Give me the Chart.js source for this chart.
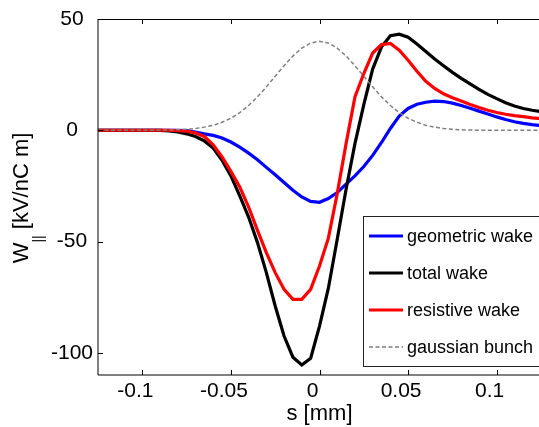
<!DOCTYPE html>
<html>
<head>
<meta charset="utf-8">
<script src="https://cdn.jsdelivr.net/npm/chart.js@4.4.0/dist/chart.umd.min.js"></script>
<style>
  html, body { margin: 0; padding: 0; background: #fff; overflow: hidden; }
  canvas { display: block; }
</style>
</head>
<body>
<canvas id="wakeChart" width="542" height="427"></canvas>
<script>
// longitudinal position s [mm]
const sPos = [
  -0.125, -0.12, -0.115, -0.11, -0.105, -0.1, -0.095, -0.09, -0.085, -0.08,
  -0.075, -0.07, -0.065, -0.06, -0.055, -0.05, -0.045, -0.04, -0.035, -0.03,
  -0.025, -0.02, -0.015, -0.01, -0.005, 0, 0.005, 0.01, 0.015, 0.02,
  0.025, 0.03, 0.035, 0.04, 0.045, 0.05, 0.055, 0.06, 0.065, 0.07,
  0.075, 0.08, 0.085, 0.09, 0.095, 0.1, 0.105, 0.11, 0.115, 0.12, 0.125
];

// wake potentials [kV/nC m]
const geometricWake = [
  0, 0, 0, 0, 0, 0, 0, 0, 0, 0,
  -0.2, -0.8, -1.6, -2.3, -3.5, -5.3, -7.6, -10.3, -13.3, -16.7,
  -20, -23.5, -27, -30, -32, -32.4, -30.7, -28, -24.2, -20.5,
  -16.3, -11.3, -5.5, 0.8, 6.4, 9.8, 11.7, 12.6, 13.1, 12.9,
  12.2, 11.1, 9.9, 8.6, 7.3, 6, 4.8, 3.8, 3.1, 2.5, 2.1
];
const totalWake = [
  0, 0, 0, 0, 0, 0, 0, -0.1, -0.3, -0.8,
  -1.6, -2.8, -4.8, -8, -13.5, -20.5, -29.5, -39, -50.5, -64,
  -79, -92.5, -102, -105.5, -102.5, -88, -71, -49, -26.5, -6,
  11.5, 27.5, 37.5, 42.5, 43.2, 41.8, 38.8, 35.4, 32, 29,
  26, 23.3, 20.8, 18.4, 16.1, 14.2, 12.4, 10.9, 9.8, 9, 8.4
];
const resistiveWake = [
  0, 0, 0, 0, 0, 0, 0, 0, 0, -0.2,
  -0.4, -1.2, -2.8, -6.5, -12, -18.5, -25.5, -34.5, -45, -55,
  -64, -71.5, -76, -76, -71.5, -61, -48.5, -28.5, -6, 15,
  25.5, 34.7, 38.5, 39, 36, 31.5, 26.5, 22, 18.8, 16.4,
  14.6, 13.1, 11.6, 10.2, 9, 8, 7.2, 6.6, 6.1, 5.6, 5.2
];
const gaussianBunch = [
  0, 0, 0, 0, 0, 0, 0, 0, 0.1, 0.2,
  0.4, 0.8, 1.4, 2.2, 3.6, 5.4, 7.9, 11.1, 15, 19.5,
  24.3, 29, 33.4, 36.9, 39.2, 40, 39.2, 36.9, 33.4, 29,
  24.3, 19.5, 15, 11.1, 7.9, 5.4, 3.6, 2.2, 1.4, 0.8,
  0.4, 0.2, 0.1, 0, 0, 0, 0, 0, 0, 0, 0
];

const xTicks = [-0.1, -0.05, 0, 0.05, 0.1];
const xTickLabels = ['-0.1', '-0.05', '0', '0.05', '0.1'];
const yTicks = [-100, -50, 0, 50];
const yTickLabels = ['-100', '-50', '0', '50'];
const seriesNames = ['geometric wake', 'total wake', 'resistive wake', 'gaussian bunch'];

const FONT = "'Liberation Sans', Arial, sans-serif";

function toPoints(values) {
    return sPos.map((s, i) => ({ x: s, y: values[i] }));
}

// box, inward ticks, axis titles and legend drawn on top of the plot
const framePlugin = {
    id: 'frame',
    afterDraw(chart) {
        const ctx = chart.ctx;
        const area = chart.chartArea;
        const xs = chart.scales.x;
        const ys = chart.scales.y;

        ctx.save();
        ctx.strokeStyle = '#000';
        ctx.lineWidth = 1;
        ctx.beginPath();
        ctx.moveTo(area.left, area.top + 0.5);
        ctx.lineTo(chart.width, area.top + 0.5);
        ctx.moveTo(area.left, area.bottom);
        ctx.lineTo(chart.width, area.bottom);
        ctx.moveTo(area.left, area.top);
        ctx.lineTo(area.left, area.bottom);
        xTicks.forEach(v => {
            const px = Math.round(xs.getPixelForValue(v)) + 0.5;
            ctx.moveTo(px, area.bottom);
            ctx.lineTo(px, area.bottom - 5);
            ctx.moveTo(px, area.top);
            ctx.lineTo(px, area.top + 5);
        });
        yTicks.forEach(v => {
            const py = Math.round(ys.getPixelForValue(v)) + 0.5;
            ctx.moveTo(area.left, py);
            ctx.lineTo(area.left + 5, py);
        });
        ctx.stroke();

        // axis titles
        ctx.fillStyle = '#000';
        ctx.textBaseline = 'alphabetic';
        ctx.textAlign = 'center';
        ctx.font = '22px ' + FONT;
        ctx.fillText('s [mm]', (area.left + area.right) / 2, 420);

        ctx.save();
        ctx.translate(28, 198);
        ctx.rotate(-Math.PI / 2);
        ctx.textAlign = 'left';
        ctx.font = '22px ' + FONT;
        const wW = ctx.measureText('W').width;
        const rest = ' [kV/nC m]';
        const wRest = ctx.measureText(rest).width;
        ctx.font = '14px ' + FONT;
        const wSub = ctx.measureText('||').width;
        let x0 = -(wW + wSub + wRest) / 2;
        ctx.font = '22px ' + FONT;
        ctx.fillText('W', x0, 0);
        ctx.font = '14px ' + FONT;
        ctx.fillText('||', x0 + wW, 15);
        ctx.font = '22px ' + FONT;
        ctx.fillText(rest, x0 + wW + wSub, 0);
        ctx.restore();

        // legend
        const box = { x: 363.5, y: 216.5, w: 200, h: 150 };
        ctx.fillStyle = '#fff';
        ctx.fillRect(box.x, box.y, box.w, box.h);
        ctx.strokeStyle = '#222';
        ctx.lineWidth = 1;
        ctx.strokeRect(box.x, box.y, box.w, box.h);
        const rows = [236, 273, 310, 347];
        ctx.font = '18px ' + FONT;
        ctx.textAlign = 'left';
        ctx.textBaseline = 'middle';
        seriesNames.forEach((name, i) => {
            const ds = chart.data.datasets.find(d => d.label === name);
            ctx.save();
            ctx.strokeStyle = ds.borderColor;
            ctx.lineWidth = ds.borderWidth;
            ctx.setLineDash(ds.borderDash || []);
            ctx.beginPath();
            ctx.moveTo(369, rows[i]);
            ctx.lineTo(403, rows[i]);
            ctx.stroke();
            ctx.restore();
            ctx.fillStyle = '#000';
            ctx.fillText(name, 407, rows[i] + 1);
        });
        ctx.restore();
    }
};

new Chart(document.getElementById('wakeChart'), {
    type: 'line',
    data: {
        datasets: [
            { label: seriesNames[0], data: toPoints(geometricWake), borderColor: '#0000ff', borderWidth: 3.2, order: 3 },
            { label: seriesNames[1], data: toPoints(totalWake), borderColor: '#000000', borderWidth: 3.2, order: 2 },
            { label: seriesNames[2], data: toPoints(resistiveWake), borderColor: '#ff0000', borderWidth: 3.2, order: 1 },
            { label: seriesNames[3], data: toPoints(gaussianBunch), borderColor: '#808080', borderWidth: 1.5, borderDash: [4, 2.5], order: 0 }
        ]
    },
    options: {
        responsive: false,
        animation: false,
        devicePixelRatio: 1,
        layout: { padding: { top: 19, right: 1, left: 0, bottom: 0 } },
        elements: {
            point: { radius: 0 },
            line: { tension: 0, fill: false }
        },
        plugins: {
            legend: { display: false },
            tooltip: { enabled: false }
        },
        scales: {
            x: {
                type: 'linear',
                min: -0.125,
                max: 0.125,
                grid: { display: false, drawTicks: false },
                border: { display: false },
                afterBuildTicks: scale => { scale.ticks = xTicks.map(v => ({ value: v })); },
                afterFit: scale => { scale.height = 52; },
                ticks: {
                    color: '#000',
                    font: { family: FONT, size: 21 },
                    padding: 4,
                    labelOffset: -7,
                    maxRotation: 0,
                    callback: (v, i) => xTickLabels[i]
                }
            },
            y: {
                type: 'linear',
                min: -110,
                max: 50,
                grid: { display: false, drawTicks: false },
                border: { display: false },
                afterBuildTicks: scale => { scale.ticks = yTicks.map(v => ({ value: v })); },
                afterFit: scale => { scale.width = 98; },
                ticks: {
                    color: '#000',
                    font: { family: FONT, size: 21 },
                    padding: 5,
                    crossAlign: 'center',
                    callback: (v, i) => yTickLabels[i]
                }
            }
        }
    },
    plugins: [framePlugin]
});
</script>
</body>
</html>
